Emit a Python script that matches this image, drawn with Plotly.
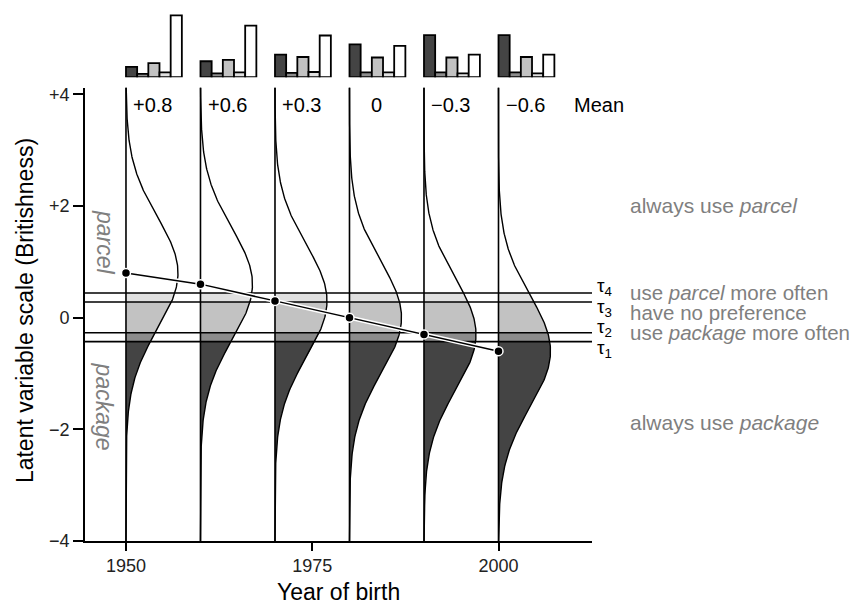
import numpy as np
import plotly.graph_objects as go

# Birth cohorts and the latent mean of each cohort
years = [1950, 1960, 1970, 1980, 1990, 2000]
means = [0.8, 0.6, 0.3, 0.0, -0.3, -0.6]
mean_labels = ["+0.8", "+0.6", "+0.3", "0", "\u22120.3", "\u22120.6"]

# Cut points on the latent scale
taus = [-0.43, -0.27, 0.28, 0.44]

# Observed response shares per cohort (package ... parcel)
share_always_package = [0.11, 0.17, 0.24, 0.35, 0.45, 0.45]
share_more_package = [0.035, 0.04, 0.045, 0.05, 0.05, 0.05]
share_no_pref = [0.15, 0.185, 0.215, 0.21, 0.21, 0.215]
share_more_parcel = [0.05, 0.05, 0.055, 0.05, 0.04, 0.04]
share_always_parcel = [0.66, 0.55, 0.445, 0.335, 0.24, 0.24]

y_ticks = [-4, -2, 0, 2, 4]
y_tick_text = ["\u22124", "\u22122", "0", "+2", "+4"]
x_ticks = [1950, 1975, 2000]

band_colors = ["#444444", "#8c8c8c", "#c2c2c2", "#e0e0e0"]
FONT = "Liberation Sans, Arial, sans-serif"

Y_LO, Y_HI = -4.0, 4.12
X_LO, X_HI = 1944.5, 2012.55
WIDTH_SCALE = 17.5  # years per unit of density


def density(y, m):
    return np.exp(-0.5 * (y - m) ** 2) / np.sqrt(2 * np.pi)


def xpaper(year):
    """Paper x-coordinate of a year value (for labels right of the axis)."""
    return (year - X_LO) / (X_HI - X_LO)


fig = go.Figure()

# Shaded bands under each density curve
edges = [Y_LO] + taus
for yr, m in zip(years, means):
    for k in range(4):
        a, b = edges[k], edges[k + 1]
        ys = np.linspace(a, b, 60)
        xs = yr + WIDTH_SCALE * density(ys, m)
        px = [yr] + list(xs) + [yr, yr]
        py = [a] + list(ys) + [b, a]
        fig.add_trace(go.Scatter(x=px, y=py, mode="lines", fill="toself",
                                 fillcolor=band_colors[k], line=dict(width=0),
                                 hoverinfo="skip", showlegend=False))

# Density outlines
for yr, m in zip(years, means):
    ys = np.linspace(Y_LO, Y_HI, 400)
    xs = yr + WIDTH_SCALE * density(ys, m)
    fig.add_trace(go.Scatter(x=xs, y=ys, mode="lines",
                             line=dict(color="black", width=1.4),
                             hoverinfo="skip", showlegend=False))

# Cohort baselines
for yr in years:
    fig.add_trace(go.Scatter(x=[yr, yr], y=[Y_LO, Y_HI], mode="lines",
                             line=dict(color="black", width=1.6),
                             hoverinfo="skip", showlegend=False))

# Threshold lines
for t in taus:
    fig.add_trace(go.Scatter(x=[X_LO, X_HI], y=[t, t], mode="lines",
                             line=dict(color="black", width=1.6),
                             hoverinfo="skip", showlegend=False))

# Trend of cohort means with a white halo
fig.add_trace(go.Scatter(x=years, y=means, mode="lines",
                         line=dict(color="white", width=4.5),
                         hoverinfo="skip", showlegend=False))
fig.add_trace(go.Scatter(x=years, y=means, mode="lines+markers",
                         line=dict(color="black", width=1.5),
                         marker=dict(color="black", size=9,
                                     line=dict(color="white", width=1.5)),
                         hoverinfo="skip", showlegend=False))

# Small bar charts of response shares above each cohort
bar_sets = [share_always_package, share_more_package, share_no_pref,
            share_more_parcel, share_always_parcel]
bar_fills = band_colors + ["white"]
for i, (vals, col) in enumerate(zip(bar_sets, bar_fills)):
    fig.add_trace(go.Bar(x=[yr + 0.75 + 1.5 * i for yr in years], y=vals,
                         width=1.5, marker=dict(color=col, line=dict(color="black", width=1.8)),
                         xaxis="x", yaxis="y2", hoverinfo="skip", showlegend=False))

ann = []
# Mean labels
for yr, lab in zip(years, mean_labels):
    ann.append(dict(x=yr + 3.6, y=3.8, text=lab, showarrow=False,
                    font=dict(size=20, color="black"), xanchor="center", yanchor="middle"))
ann.append(dict(x=xpaper(2013.5), xref="paper", y=3.8, text="Mean", showarrow=False,
                font=dict(size=20, color="black"), xanchor="center", yanchor="middle"))

# Threshold names
tau_y = [-0.56, -0.18, 0.18, 0.55]
for k, ty in enumerate(tau_y):
    ann.append(dict(x=xpaper(2012.9), xref="paper", y=ty,
                    text="\u03c4<sub>%d</sub>" % (k + 1), showarrow=False,
                    font=dict(size=19, color="black"), xanchor="left", yanchor="middle"))

# Response category descriptions
grey = "#7f7f7f"
cat_text = [("always use <i>parcel</i>", 2.0, 21),
            ("use <i>parcel</i> more often", 0.45, 20.5),
            ("have no preference", 0.09, 20.5),
            ("use <i>package</i> more often", -0.27, 20.5),
            ("always use <i>package</i>", -1.88, 21)]
for txt, ty, fs in cat_text:
    ann.append(dict(x=xpaper(2017.4), xref="paper", y=ty, text=txt, showarrow=False,
                    font=dict(size=fs, color=grey), xanchor="left", yanchor="middle"))

# Side words along the latent axis
ann.append(dict(x=1947.1, y=1.35, text="<i>parcel</i>", textangle=90, showarrow=False,
                font=dict(size=23, color=grey), xanchor="center", yanchor="middle"))
ann.append(dict(x=1947.1, y=-1.6, text="<i>package</i>", textangle=90, showarrow=False,
                font=dict(size=23, color=grey), xanchor="center", yanchor="middle"))

# Axis titles
ann.append(dict(x=0.5, y=-0.095, xref="paper", yref="paper", text="Year of birth",
                showarrow=False, font=dict(size=23, color="black"),
                xanchor="center", yanchor="middle"))
ann.append(dict(x=-0.118, y=0.12, xref="paper", yref="y",
                text="Latent variable scale (Britishness)", textangle=-90,
                showarrow=False, font=dict(size=23, color="black"),
                xanchor="center", yanchor="middle"))

fig.update_layout(
    width=864, height=608,
    margin=dict(l=85, r=272, t=5, b=67),
    paper_bgcolor="white", plot_bgcolor="white",
    font=dict(family=FONT, color="black"),
    barmode="overlay",
    annotations=ann,
    xaxis=dict(range=[X_LO, X_HI], tickvals=x_ticks, ticks="outside", ticklen=8,
               tickwidth=1.6, tickcolor="black", showline=True, linecolor="black",
               linewidth=1.6, showgrid=False, zeroline=False,
               tickfont=dict(size=18, color="#222222")),
    yaxis=dict(domain=[0, 0.8507], range=[Y_LO, Y_HI], tickvals=y_ticks,
               ticktext=y_tick_text, ticks="outside", ticklen=10, tickwidth=1.6,
               tickcolor="black", showline=True, linecolor="black", linewidth=1.6,
               showgrid=False, zeroline=False, tickfont=dict(size=18, color="#222222")),
    yaxis2=dict(domain=[0.8703, 1.0], range=[0, 0.739], anchor="x",
                showticklabels=False, showgrid=False, zeroline=False, showline=False,
                ticks=""),
)

fig.write_html("out.html")
